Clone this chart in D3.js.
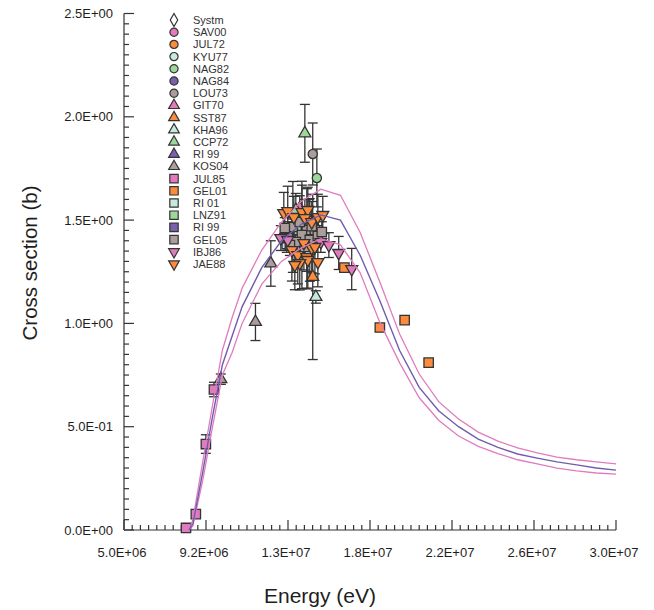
<!DOCTYPE html>
<html><head><meta charset="utf-8">
<script src="https://cdn.jsdelivr.net/npm/d3@7"></script>
<style>body{margin:0;background:#fff}</style>
</head><body><svg id="c" width="654" height="610"></svg>
<script>
// ---- tick labels ----
const xTickValues = [5.0e6, 9.166667e6, 1.3333333e7, 1.75e7, 2.1666667e7, 2.5833333e7, 3.0e7];
const xTickLabels = ["5.0E+06","9.2E+06","1.3E+07","1.8E+07","2.2E+07","2.6E+07","3.0E+07"];
const yTickValues = [0, 0.5, 1.0, 1.5, 2.0, 2.5];
const yTickLabels = ["0.0E+00","5.0E-01","1.0E+00","1.5E+00","2.0E+00","2.5E+00"];

// ---- evaluated curves ----
const curveEnergy = [8.3e6,8.5e6,9.0e6,9.5e6,1.0e7,1.05e7,1.1e7,1.2e7,1.3e7,1.4e7,1.5e7,1.6e7,1.7e7,1.8e7,1.9e7,2.0e7,2.1e7,2.2e7,2.3e7,2.4e7,2.5e7,2.6e7,2.7e7,2.8e7,2.9e7,3.0e7];
const curveUpper   = [0,0.05,0.33,0.605,0.87,1.03,1.17,1.355,1.49,1.59,1.65,1.62,1.44,1.20,0.95,0.755,0.62,0.537,0.474,0.43,0.397,0.373,0.353,0.34,0.33,0.32];
const curveCentral = [0,0.03,0.28,0.55,0.80,0.94,1.08,1.27,1.40,1.48,1.525,1.50,1.33,1.11,0.87,0.69,0.576,0.50,0.44,0.40,0.368,0.348,0.33,0.315,0.30,0.29];
const curveLower   = [0,0.02,0.24,0.50,0.75,0.86,1.00,1.19,1.30,1.365,1.41,1.38,1.245,1.005,0.81,0.64,0.53,0.455,0.405,0.37,0.34,0.32,0.30,0.286,0.276,0.27];

// ---- experimental data: [energy (eV), cross section (b), uncertainty (b)] ----
const legendNames = ["Systm","SAV00","JUL72","KYU77","NAG82","NAG84","LOU73","GIT70","SST87","KHA96","CCP72","RI 99","KOS04","JUL85","GEL01","RI 01","LNZ91","RI 99","GEL05","IBJ86","JAE88"];
const Systm = [];
const SAV00 = [[1.41e7,1.44,0.04]];
const JUL72 = [[1.45e7,1.47,0.05]];
const KYU77 = [[1.40e7,1.40,0.05]];
const NAG82 = [[1.480e7,1.704,0.14]];
const NAG84 = [[1.37e7,1.455,0.05]];
const LOU73 = [[1.459e7,1.82,0.15]];
const GIT70 = [[1.393e7,1.558,0.06]];
const SST87 = [[1.459e7,1.225,0.40],[1.44e7,1.50,0.10]];
const KHA96 = [[1.475e7,1.128,0.03],[1.39e7,1.42,0.04]];
const CCP72 = [[1.419e7,1.92,0.14],[1.373e7,1.549,0.08]];
const RI99a = [[1.353e7,1.462,0.05],[1.395e7,1.447,0.05]];
const KOS04 = [[9.92e6,0.73,0.025],[1.168e7,1.007,0.09],[1.246e7,1.29,0.11]];
const JUL85 = [[8.15e6,0.01,0],[8.65e6,0.077,0],[9.16e6,0.416,0.045],[9.57e6,0.68,0.035]];
const GEL01 = [[1.62e7,1.27,0],[1.80e7,0.98,0],[1.926e7,1.016,0],[2.048e7,0.81,0]];
const RI01  = [[1.327e7,1.384,0.04],[1.444e7,1.355,0.04]];
const LNZ91 = [[1.388e7,1.452,0.05]];
const RI99b = [[1.332e7,1.442,0.05],[1.424e7,1.471,0.05],[1.464e7,1.457,0.05]];
const GEL05 = [[1.358e7,1.467,0.22],[1.429e7,1.452,0.20],[1.470e7,1.452,0.05],[1.404e7,1.428,0.26],[1.332e7,1.413,0.05],[1.373e7,1.394,0.05],[1.444e7,1.404,0.20],[1.485e7,1.423,0.05],[1.505e7,1.442,0.05],[1.317e7,1.462,0.05],[1.393e7,1.491,0.05],[1.454e7,1.471,0.05],[1.343e7,1.379,0.05],[1.419e7,1.370,0.05]];
const IBJ86 = [[1.297e7,1.413,0.06],[1.332e7,1.404,0.05],[1.500e7,1.394,0.05],[1.541e7,1.379,0.06],[1.591e7,1.341,0.08],[1.657e7,1.263,0.10]];
const JAE88 = [[1.312e7,1.534,0.10],[1.332e7,1.544,0.12],[1.363e7,1.515,0.10],[1.404e7,1.539,0.13],[1.434e7,1.549,0.11],[1.419e7,1.510,0.09],[1.454e7,1.490,0.10],[1.485e7,1.515,0.11],[1.510e7,1.525,0.09],
               [1.353e7,1.355,0.15],[1.383e7,1.331,0.14],[1.414e7,1.389,0.13],[1.429e7,1.321,0.15],[1.454e7,1.365,0.12],[1.470e7,1.370,0.13],[1.434e7,1.307,0.14],[1.393e7,1.292,0.13],[1.485e7,1.297,0.12],[1.368e7,1.283,0.12]];
const seriesData = [Systm,SAV00,JUL72,KYU77,NAG82,NAG84,LOU73,GIT70,SST87,KHA96,CCP72,RI99a,KOS04,JUL85,GEL01,RI01,LNZ91,RI99b,GEL05,IBJ86,JAE88];

// ---- styles ----
const PINK="#e07cbd", ORANGE="#fd8b3c", MINT="#c8eadb", GREEN="#9fd69a", PURPLE="#7a5fab", TAUPE="#ab9d9b";
const palette = [PINK,ORANGE,MINT,GREEN,PURPLE,TAUPE];
const shapes = ["circle","triangle","square","down"];
function styleOf(i){
  if(i===0) return {shape:"diamond", fill:"#fff"};
  const k=i-1; return {shape:shapes[Math.floor(k/6)], fill:palette[k%6]};
}

const svg = d3.select("#c");
const x = d3.scaleLinear().domain([5e6,3e7]).range([124,616]);
const y = d3.scaleLinear().domain([0,2.5]).range([530,13.5]);
const TXT="#1e1e1e";
const FONT="Liberation Sans, Arial, Helvetica, sans-serif";

function symPath(shape, big){
  const s = big ? 1 : 0.8;
  let t, sz;
  if(shape==="circle"){t=d3.symbolCircle; sz=66*s;}
  else if(shape==="square"){t=d3.symbolSquare; sz=88*s;}
  else if(shape==="diamond"){t=d3.symbolDiamond; sz=60*s;}
  else {t=d3.symbolTriangle; sz=62*s;}
  return d3.symbol().type(t).size(sz)();
}

// axes
const ax = svg.append("g").attr("stroke","#333").attr("stroke-width",1.2);
ax.append("line").attr("x1",x(5e6)).attr("x2",x(3e7)).attr("y1",y(0)).attr("y2",y(0));
ax.append("line").attr("x1",x(5e6)).attr("x2",x(5e6)).attr("y1",y(0)).attr("y2",y(2.5));
const xMinor = d3.range(0,61).map(i=>5e6+i*(25e6/60));
ax.selectAll(".xm").data(xMinor).join("line")
  .attr("x1",d=>x(d)).attr("x2",d=>x(d)).attr("y1",y(0)).attr("y2",(d,i)=> i%10===0 ? y(0)-10 : y(0)-5);
const yMinor = d3.range(0,51).map(i=>i*0.05);
ax.selectAll(".ym").data(yMinor).join("line")
  .attr("y1",d=>y(d)).attr("y2",d=>y(d)).attr("x1",x(5e6)).attr("x2",(d,i)=> i%10===0 ? x(5e6)+10 : x(5e6)+5);

svg.selectAll(".xl").data(xTickValues).join("text")
  .attr("x",d=>x(d)-2).attr("y",557).attr("text-anchor","middle")
  .attr("font-family",FONT).attr("font-size",13).attr("fill",TXT)
  .text((d,i)=>xTickLabels[i]);
svg.selectAll(".yl").data(yTickValues).join("text")
  .attr("x",113).attr("y",d=>y(d)+4.5).attr("text-anchor","end")
  .attr("font-family",FONT).attr("font-size",13).attr("fill",TXT)
  .text((d,i)=>yTickLabels[i]);

svg.append("text").attr("x",320).attr("y",603).attr("text-anchor","middle")
  .attr("font-family",FONT).attr("font-size",21).attr("fill",TXT).text("Energy (eV)");
svg.append("text").attr("transform","translate(37,263) rotate(-90)").attr("text-anchor","middle")
  .attr("font-family",FONT).attr("font-size",20.5).attr("fill",TXT).text("Cross section (b)");

// error bars
const eb = svg.append("g").attr("stroke","#333").attr("stroke-width",1.3).attr("fill","none");
seriesData.forEach(ds=>ds.forEach(p=>{
  if(!p[2]) return;
  const cx=x(p[0]), y1=y(p[1]+p[2]), y2=y(p[1]-p[2]);
  eb.append("line").attr("x1",cx).attr("x2",cx).attr("y1",y1).attr("y2",y2);
  eb.append("line").attr("x1",cx-5).attr("x2",cx+5).attr("y1",y1).attr("y2",y1);
  eb.append("line").attr("x1",cx-5).attr("x2",cx+5).attr("y1",y2).attr("y2",y2);
}));

// markers
seriesData.forEach((ds,i)=>{
  const st=styleOf(i);
  svg.append("g").selectAll("path").data(ds).join("path")
    .attr("d",symPath(st.shape,true))
    .attr("transform",d=>`translate(${x(d[0])},${y(d[1])})${st.shape==="down"?" rotate(180)":""}`)
    .attr("fill",st.fill).attr("stroke","#333").attr("stroke-width",1.3);
});

// curves
const line = d3.line().x((d,i)=>x(curveEnergy[i])).y(d=>y(d));
svg.append("path").attr("d",line(curveUpper)).attr("fill","none").attr("stroke",PINK).attr("stroke-width",1.3);
svg.append("path").attr("d",line(curveLower)).attr("fill","none").attr("stroke",PINK).attr("stroke-width",1.3);
svg.append("path").attr("d",line(curveCentral)).attr("fill","none").attr("stroke","#6f5cb0").attr("stroke-width",1.4);

// legend
const lg = svg.append("g");
legendNames.forEach((n,i)=>{
  const st=styleOf(i), ly=20+i*12.2;
  lg.append("path").attr("d",symPath(st.shape,false))
    .attr("transform",`translate(174,${ly})${st.shape==="down"?" rotate(180)":""}`)
    .attr("fill",st.fill).attr("stroke","#333").attr("stroke-width",1.2);
  lg.append("text").attr("x",193).attr("y",ly+4).attr("font-family",FONT)
    .attr("font-size",11).attr("fill","#333").text(n);
});
</script></body></html>
